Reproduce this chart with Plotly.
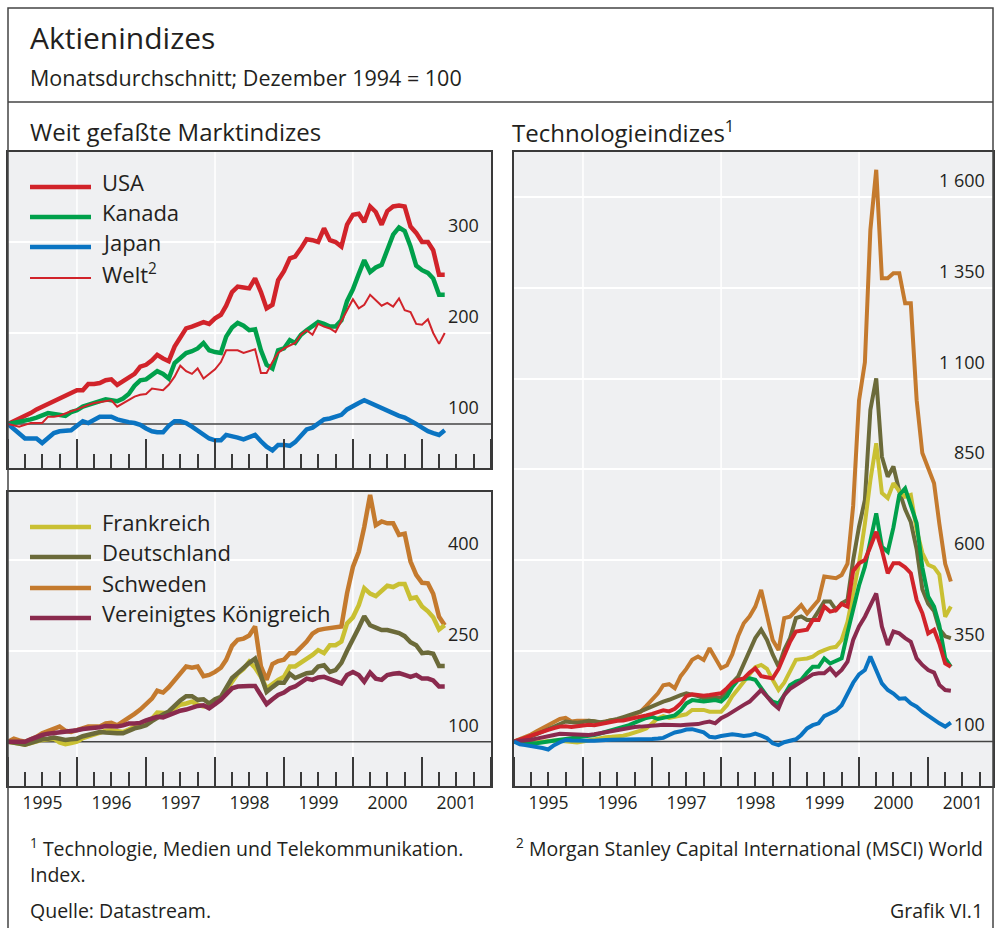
import plotly.graph_objects as go
import pandas as pd

# ---------------- data (monthly averages, Dec 1994 = 100; Dec 1994 ... Apr 2001) ----------------
months = pd.date_range("1995-01-01", periods=77, freq="MS")  # month-end positions

usa = [100,
       103, 106, 109, 112, 116, 119, 122, 125, 129, 131, 134, 137,
       137, 144, 144, 145, 148, 149, 143, 147, 150, 155, 163, 165,
       170, 176, 172, 169, 185, 196, 205, 207, 210, 212, 210, 216,
       220, 230, 245, 251, 250, 249, 260, 245, 227, 231, 258, 268,
       282, 284, 293, 303, 302, 300, 315, 302, 300, 295, 319, 330,
       331, 322, 339, 333, 319, 334, 339, 340, 339, 317, 310, 300,
       300, 291, 264, 264]
kanada = [100,
          101, 103, 104, 105, 107, 110, 112, 111, 110, 109, 113, 115,
          119, 121, 123, 125, 127, 126, 125, 128, 133, 142, 148, 149,
          154, 158, 155, 150, 167, 172, 178, 180, 183, 189, 181, 179,
          178, 196, 206, 211, 208, 203, 204, 181, 165, 161, 181, 183,
          192, 189, 198, 203, 207, 212, 210, 207, 207, 214, 235, 248,
          265, 280, 267, 272, 275, 293, 308, 316, 312, 295, 274, 269,
          266, 260, 242, 242]
japan = [100,
         95, 89, 84, 84, 84, 79, 84, 90, 92, 93, 93, 98,
         103, 101, 105, 108, 108, 108, 105, 103, 102, 101, 99, 95,
         92, 91, 91, 98, 103, 103, 101, 97, 93, 89, 84, 82,
         82, 88, 87, 85, 83, 86, 88, 81, 75, 71, 77, 77,
         76, 80, 88, 94, 96, 101, 105, 106, 108, 110, 116, 120,
         123, 126, 123, 121, 118, 115, 112, 109, 107, 104, 100, 96,
         92, 90, 88, 93]
welt = [100,
        98, 97, 99, 101, 101, 101, 108, 108, 109, 112, 114, 116,
        119, 121, 123, 124, 125, 126, 119, 123, 126, 130, 132, 133,
        139, 138, 137, 143, 152, 164, 158, 155, 161, 150, 155, 160,
        168, 181, 181, 181, 178, 180, 182, 156, 156, 168, 178, 183,
        186, 189, 198, 203, 198, 210, 207, 205, 201, 213, 226, 237,
        227, 231, 242, 236, 230, 233, 229, 238, 225, 223, 210, 209,
        215, 200, 188, 200]

frankreich = [100,
              99, 97, 95, 98, 101, 103, 104, 105, 99, 96, 98, 100,
              106, 109, 112, 116, 118, 119, 117, 116, 120, 125, 128, 133,
              138, 148, 148, 147, 155, 161, 163, 166, 161, 158, 159, 165,
              171, 185, 199, 212, 220, 232, 222, 207, 188, 196, 202, 207,
              224, 224, 230, 236, 243, 251, 246, 259, 259, 265, 295, 305,
              325, 353, 344, 340, 348, 357, 355, 360, 360, 336, 338, 323,
              315, 305, 285, 292]
deutschland = [100,
               99, 97, 95, 98, 101, 104, 105, 107, 105, 103, 104, 105,
               109, 111, 113, 116, 115, 114, 114, 114, 118, 122, 124, 127,
               134, 140, 145, 150, 160, 168, 175, 175, 169, 170, 163, 170,
               174, 190, 205, 213, 222, 230, 237, 207, 182, 190, 197, 197,
               212, 205, 210, 213, 214, 224, 226, 215, 218, 230, 250, 268,
               288, 307, 292, 288, 284, 284, 282, 279, 274, 264, 259, 246,
               247, 245, 225, 225]
schweden = [100,
            105, 102, 100, 104, 108, 114, 118, 121, 125, 118, 116, 119,
            122, 125, 125, 125, 130, 131, 127, 133, 140, 146, 153, 162,
            171, 184, 181, 190, 202, 214, 224, 222, 224, 208, 210, 215,
            222, 235, 258, 268, 270, 275, 290, 224, 202, 228, 233, 235,
            246, 246, 255, 265, 278, 284, 286, 287, 288, 290, 345, 388,
            413, 454, 507, 457, 463, 460, 460, 441, 443, 397, 375, 362,
            361, 344, 306, 292]
vk = [100,
      100, 100, 100, 104, 108, 111, 113, 114, 115, 116, 118, 119,
      121, 122, 122, 124, 126, 125, 125, 127, 130, 130, 131, 135,
      138, 141, 140, 144, 148, 151, 153, 157, 159, 160, 155, 162,
      169, 178, 188, 191, 192, 192, 192, 175, 162, 170, 177, 181,
      188, 191, 197, 204, 202, 206, 207, 203, 199, 196, 210, 215,
      210, 199, 214, 204, 202, 210, 212, 213, 210, 207, 210, 204,
      204, 201, 191, 191]

# Technologieindizes (TMT)
tech_usa = [100,
            104, 110, 116, 122, 127, 132, 137, 141, 142, 140, 142, 145,
            146, 145, 148, 152, 155, 157, 158, 161, 165, 168, 172, 176,
            182, 186, 183, 190, 205, 225, 230, 228, 226, 228, 230, 233,
            247, 262, 270, 274, 290, 302, 280, 276, 274, 300, 334, 375,
            403, 405, 408, 435, 435, 472, 458, 462, 479, 472, 570, 591,
            600, 637, 678, 628, 564, 591, 591, 580, 564, 490, 454, 398,
            408, 370, 315, 306]
tech_kanada = [100,
               98, 96, 95, 95, 98, 100, 103, 105, 107, 109, 110, 112,
               115, 118, 122, 126, 130, 135, 140, 145, 152, 158, 165, 168,
               162, 165, 168, 172, 185, 205, 214, 212, 210, 212, 214, 210,
               225, 250, 270, 272, 274, 270, 245, 225, 210, 205, 228, 255,
               265, 270, 290, 306, 306, 329, 315, 322, 329, 400, 470, 530,
               582, 650, 729, 637, 623, 690, 780, 798, 750, 702, 580, 500,
               472, 420, 330, 306]
tech_japan = [100,
              92, 90, 88, 86, 82, 78, 90, 98, 104, 103, 102, 103,
              102, 102, 104, 104, 105, 105, 106, 106, 106, 106, 106, 107,
              108, 110, 118, 125, 128, 133, 134, 130, 125, 113, 111, 115,
              119, 120, 118, 115, 117, 122, 116, 109, 95, 90, 98, 102,
              106, 118, 136, 145, 150, 170, 178, 185, 200, 233, 262, 285,
              297, 334, 297, 260, 242, 232, 218, 219, 205, 196, 182, 170,
              160, 150, 141, 152]
tech_frankreich = [100,
                   99, 97, 96, 98, 100, 102, 103, 102, 100, 98, 97, 100,
                   103, 106, 110, 112, 113, 114, 116, 120, 124, 130, 136, 150,
                   164, 170, 165, 168, 172, 175, 187, 188, 187, 182, 182, 182,
                   200, 225, 245, 265, 283, 305, 311, 300, 270, 242, 262, 295,
                   325, 327, 329, 334, 345, 352, 358, 361, 380, 430, 510, 591,
                   700, 820, 922, 785, 771, 812, 790, 775, 780, 683, 620, 587,
                   580, 560, 444, 472]
tech_deutschland = [100,
                    104, 108, 114, 120, 127, 135, 142, 150, 155, 153, 152, 154,
                    157, 156, 153, 155, 158, 162, 167, 172, 178, 183, 190, 197,
                    205, 210, 215, 222, 228, 233, 230, 225, 219, 219, 219, 221,
                    240, 262, 279, 315, 350, 385, 408, 380, 340, 306, 352, 385,
                    440, 445, 435, 435, 460, 486, 486, 463, 481, 490, 600, 692,
                    766, 1014, 1101, 885, 830, 858, 790, 740, 705, 630, 520, 480,
                    460, 410, 390, 385]
tech_schweden = [100,
                 106, 112, 119, 128, 137, 145, 152, 162, 165, 155, 157, 158,
                 157, 155, 152, 155, 159, 160, 164, 168, 175, 182, 198, 215,
                 233, 255, 258, 247, 280, 300, 325, 334, 325, 357, 330, 302,
                 310, 340, 390, 426, 445, 472, 518, 450, 380, 352, 440, 444,
                 460, 476, 453, 470, 490, 555, 552, 550, 559, 590, 750, 1040,
                 1145, 1510, 1676, 1377, 1377, 1391, 1391, 1308, 1308, 1041, 895, 850,
                 812, 700, 590, 541]
tech_vk = [100,
           101, 103, 105, 108, 112, 115, 118, 121, 120, 119, 118, 118,
           118, 120, 123, 127, 130, 132, 135, 138, 140, 141, 143, 144,
           145, 146, 145, 144, 145, 146, 147, 148, 152, 155, 150, 164,
           172, 182, 192, 201, 210, 225, 242, 224, 205, 191, 228, 245,
           256, 265, 274, 285, 288, 288, 302, 283, 297, 320, 380, 417,
           444, 475, 508, 417, 366, 403, 398, 385, 375, 329, 311, 297,
           290, 256, 242, 240]

labels_tl = [100, 200, 300]
labels_bl = [100, 250, 400]
labels_r = [100, 350, 600, 850, 1100, 1350, 1600]
grid_years = ["1996-01-01", "1998-01-01", "2000-01-01"]

# ---------------- styling ----------------
W, H = 998, 928
FONT = "Open Sans"
TEXT = "#231f20"
BORDER = "#3a3a3a"
BG = "#eff0f2"
C_USA = "#d1232a"
C_CAN = "#00a04b"
C_JPN = "#0a74c2"
C_FRA = "#c9c033"
C_GER = "#6b6a3a"
C_SWE = "#c47a2e"
C_UK = "#8a2a4e"

X_LEFT = ["1995-01-01", "2002-01-01"]
X_RIGHT = ["1995-01-01", "2001-12-10"]
Y_TL = [51.6, 398.9]
Y_BL = [27, 511.6]
Y_R = [-22.7, 1725]


def px(x):
    return x / W


def py(y):
    return 1 - y / H


fig = go.Figure()


def add(y, color, width, xa, ya, name):
    fig.add_trace(go.Scatter(x=months, y=y, mode="lines", name=name,
                             line=dict(color=color, width=width),
                             xaxis=xa, yaxis=ya, showlegend=False, hoverinfo="skip"))


# top-left
add(usa, C_USA, 4.5, "x", "y", "USA")
add(kanada, C_CAN, 4.5, "x", "y", "Kanada")
add(japan, C_JPN, 4.5, "x", "y", "Japan")
add(welt, C_USA, 2, "x", "y", "Welt")
# bottom-left
add(schweden, C_SWE, 4.5, "x2", "y2", "Schweden")
add(frankreich, C_FRA, 4.5, "x2", "y2", "Frankreich")
add(deutschland, C_GER, 4.5, "x2", "y2", "Deutschland")
add(vk, C_UK, 4.5, "x2", "y2", "Vereinigtes Königreich")
# right
add(tech_schweden, C_SWE, 4, "x3", "y3", "Schweden")
add(tech_deutschland, C_GER, 4, "x3", "y3", "Deutschland")
add(tech_frankreich, C_FRA, 4, "x3", "y3", "Frankreich")
add(tech_kanada, C_CAN, 4, "x3", "y3", "Kanada")
add(tech_usa, C_USA, 4, "x3", "y3", "USA")
add(tech_vk, C_UK, 4, "x3", "y3", "Vereinigtes Königreich")
add(tech_japan, C_JPN, 4, "x3", "y3", "Japan")


def xaxis(domain, rng, labels, anchor):
    return dict(domain=domain, range=rng, type="date", showgrid=False, zeroline=False,
                showline=True, mirror=True, linecolor=BORDER, linewidth=1.5,
                ticks="inside", ticklen=29, tickwidth=1.5, tickcolor=BORDER,
                dtick="M12", tick0="1995-01-01", tickformat="%Y", ticklabelmode="period",
                showticklabels=labels, tickfont=dict(size=17.5, color=TEXT, family=FONT),
                minor=dict(ticks="inside", ticklen=14, tickwidth=1.5, tickcolor=BORDER,
                           dtick="M3", tick0="1995-01-01", showgrid=False),
                anchor=anchor, fixedrange=True)


def yaxis(domain, rng, grid, anchor):
    return dict(domain=domain, range=rng, showgrid=True, gridcolor="white", gridwidth=1.5,
                tickvals=grid, showticklabels=False, ticks="", zeroline=False,
                showline=True, mirror=True, linecolor=BORDER, linewidth=1.5,
                anchor=anchor, fixedrange=True)


TL_X = [px(8), px(491)]
TL_Y = [py(468), py(152)]
BL_Y = [py(786), py(492)]
R_X = [px(514), px(993)]
R_Y = [py(786), py(152)]

fig.update_layout(
    width=W, height=H, margin=dict(l=0, r=0, t=0, b=0),
    paper_bgcolor="white", plot_bgcolor=BG,
    font=dict(family=FONT, color=TEXT),
    xaxis=xaxis(TL_X, X_LEFT, False, "y"),
    yaxis=yaxis(TL_Y, Y_TL, [l for l in labels_tl if l != 100], "x"),
    xaxis2=xaxis(TL_X, X_LEFT, True, "y2"),
    yaxis2=yaxis(BL_Y, Y_BL, [l for l in labels_bl if l != 100], "x2"),
    xaxis3=xaxis(R_X, X_RIGHT, True, "y3"),
    yaxis3=yaxis(R_Y, Y_R, [l for l in labels_r if l != 100], "x3"),
)

shapes = []
annotations = []

# vertical white grid lines and 100 baseline per panel
for xa, ya, xr, yr in (("x", "y", X_LEFT, Y_TL), ("x2", "y2", X_LEFT, Y_BL), ("x3", "y3", X_RIGHT, Y_R)):
    for g in grid_years:
        shapes.append(dict(type="line", xref=xa, yref=ya, x0=g, x1=g, y0=yr[0], y1=yr[1],
                           line=dict(color="white", width=1.5), layer="between"))
    shapes.append(dict(type="line", xref=xa, yref=ya, x0=xr[0], x1=xr[1], y0=100, y1=100,
                       line=dict(color="#444444", width=1.5), layer="between"))


def fmt(v):
    return f"{v:,}".replace(",", " ")


# value labels inside panels (above grid lines)
for xa, ya, vals, shift in (("x", "y", labels_tl, -10), ("x2", "y2", labels_bl, -10), ("x3", "y3", labels_r, -6)):
    for v in vals:
        annotations.append(dict(xref=xa + " domain", yref=ya, x=1, y=v, xshift=shift, yshift=3,
                                text=fmt(v), showarrow=False, xanchor="right", yanchor="bottom",
                                font=dict(size=18, color=TEXT, family=FONT)))

# legends (custom keys)
leg_tl = [("USA", C_USA, 4.5, 187), ("Kanada", C_CAN, 4.5, 217), ("Japan", C_JPN, 4.5, 247),
          ("Welt<sup>2</sup>", C_USA, 2, 278)]
leg_bl = [("Frankreich", C_FRA, 4.5, 527), ("Deutschland", C_GER, 4.5, 557),
          ("Schweden", C_SWE, 4.5, 588), ("Vereinigtes Königreich", C_UK, 4.5, 618)]
for name, col, w, yy in leg_tl + leg_bl:
    shapes.append(dict(type="line", xref="paper", yref="paper", x0=px(30), x1=px(91), y0=py(yy), y1=py(yy),
                       line=dict(color=col, width=w)))
    annotations.append(dict(xref="paper", yref="paper", x=px(100), y=py(yy - 5), text=name, showarrow=False,
                            xanchor="left", yanchor="middle", font=dict(size=22, color=TEXT, family=FONT)))

# outer frame and separator
shapes.append(dict(type="rect", xref="paper", yref="paper", x0=px(8), x1=px(993), y0=-0.05, y1=py(8),
                   line=dict(color="#444444", width=1.5)))
shapes.append(dict(type="line", xref="paper", yref="paper", x0=px(8), x1=px(993), y0=py(102), y1=py(102),
                   line=dict(color="#444444", width=1.5)))


def txt(x, y, s, size, anchor="left"):
    annotations.append(dict(xref="paper", yref="paper", x=px(x), y=py(y), text=s, showarrow=False,
                            xanchor=anchor, yanchor="middle", font=dict(size=size, color=TEXT, family=FONT)))


txt(28, 38, "Aktienindizes", 30)
txt(28, 77, "Monatsdurchschnitt; Dezember 1994 = 100", 21.5)
txt(28, 131, "Weit gefaßte Marktindizes", 24)
txt(510, 131, "Technologieindizes<sup>1</sup>", 24)
txt(28, 847, "<sup>1</sup> Technologie, Medien und Telekommunikation.", 19.5)
txt(985, 847, "<sup>2</sup> Morgan Stanley Capital International (MSCI) World", 19.5, "right")
txt(28, 874, "Index.", 19.5)
txt(28, 910, "Quelle: Datastream.", 19.5)
txt(985, 910, "Grafik VI.1", 19.5, "right")

fig.update_layout(shapes=shapes, annotations=annotations)
fig.write_html("out.html", config={"displayModeBar": False},
               post_script="document.body.style.margin='0px';document.body.style.overflow='hidden';")
